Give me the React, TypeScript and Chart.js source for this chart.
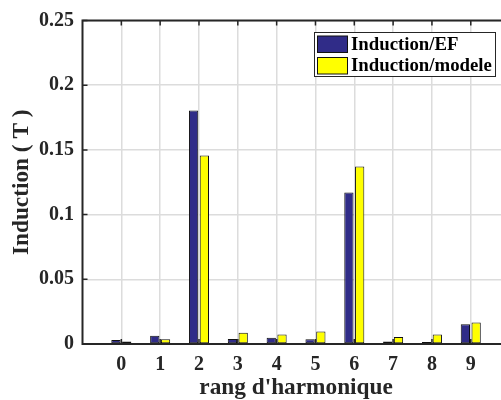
import React, { useEffect, useRef } from 'react';
import { Chart, registerables } from 'chart.js';

Chart.register(...registerables);

const harmonics = [0, 1, 2, 3, 4, 5, 6, 7, 8, 9];
const inductionEF = [0.003, 0.0064, 0.1804, 0.0038, 0.0049, 0.0036, 0.1171, 0.002, 0.0015, 0.0153];
const inductionModele = [0.002, 0.0036, 0.1456, 0.0087, 0.0074, 0.0097, 0.1372, 0.0054, 0.0074, 0.0166];
const yTicks = [0, 0.05, 0.1, 0.15, 0.2, 0.25];
const seriesNames = ['Induction/EF', 'Induction/modele'];
const seriesColors = ['#302c88', '#ffff00'];
const xTitle = "rang d'harmonique";
const yTitle = 'Induction ( T )';

const FONT = "'Liberation Serif', 'Times New Roman', serif";
const AXIS = '#262626';

const framePlugin = {
  id: 'frame',
  afterDatasetsDraw(chart: any) {
    const { ctx, chartArea, scales } = chart;
    const { left, right, top, bottom } = chartArea;
    const x = scales.x;
    const y = scales.y;
    ctx.save();
    ctx.strokeStyle = AXIS;
    ctx.lineWidth = 1.5;
    ctx.beginPath();
    harmonics.forEach((h) => {
      const px = x.getPixelForValue(h);
      ctx.moveTo(px, top);
      ctx.lineTo(px, top + 5);
      ctx.moveTo(px, bottom);
      ctx.lineTo(px, bottom - 5);
    });
    yTicks.forEach((v) => {
      const py = y.getPixelForValue(v);
      ctx.moveTo(left, py);
      ctx.lineTo(left + 5, py);
      ctx.moveTo(right, py);
      ctx.lineTo(right - 5, py);
    });
    ctx.stroke();
    ctx.lineWidth = 2;
    ctx.beginPath();
    ctx.rect(left, top, right - left, bottom - top);
    ctx.stroke();
    ctx.restore();
  },
  afterDraw(chart: any) {
    const { ctx } = chart;
    ctx.save();
    const bx = 314, by = 32, bw = 182, bh = 45;
    ctx.fillStyle = '#ffffff';
    ctx.fillRect(bx, by, bw, bh);
    ctx.strokeStyle = AXIS;
    ctx.lineWidth = 1;
    ctx.strokeRect(bx + 0.5, by + 0.5, bw - 1, bh - 1);
    ctx.font = `bold 18.8px ${FONT}`;
    ctx.textBaseline = 'middle';
    ctx.textAlign = 'left';
    seriesNames.forEach((name, i) => {
      const sy = by + 4 + i * 21.5;
      ctx.fillStyle = seriesColors[i];
      ctx.fillRect(bx + 3.5, sy, 30, 16.5);
      ctx.strokeStyle = '#111111';
      ctx.strokeRect(bx + 3.5, sy, 30, 16.5);
      ctx.fillStyle = '#000000';
      ctx.fillText(name, bx + 37, sy + 9);
    });
    ctx.restore();
  },
};

export default function App() {
  const ref = useRef<HTMLCanvasElement>(null);
  useEffect(() => {
    if (!ref.current) return;
    const tickFont = { family: FONT, size: 20, weight: 'bold' as const };
    const titleFont = { family: FONT, size: 23.3, weight: 'bold' as const, lineHeight: 1 };
    const chart = new Chart(ref.current, {
      type: 'bar',
      data: {
        datasets: [inductionEF, inductionModele].map((vals, i) => ({
          label: seriesNames[i],
          data: harmonics.map((h, j) => ({ x: h, y: vals[j] })),
          backgroundColor: seriesColors[i],
          borderColor: '#111111',
          borderWidth: 1,
          borderSkipped: false,
          categoryPercentage: 0.555,
          barPercentage: 0.86,
        })),
      },
      options: {
        animation: false,
        responsive: false,
        devicePixelRatio: 1,
        layout: { padding: { top: 17.3, right: 10.4, left: 0, bottom: 0 } },
        plugins: { legend: { display: false }, tooltip: { enabled: false } },
        scales: {
          x: {
            type: 'linear',
            min: -1,
            max: 10,
            offset: false,
            afterBuildTicks: (s: any) => {
              s.ticks = harmonics.map((v) => ({ value: v }));
            },
            afterFit: (s: any) => {
              s.height = 56;
            },
            grid: { color: '#dcdcdc', lineWidth: 1.5, drawTicks: false, offset: false },
            border: { display: false },
            ticks: { padding: 8.5, font: tickFont, color: AXIS, callback: (v: any) => String(v) },
            title: { display: true, text: xTitle, font: titleFont, color: AXIS, padding: 0 },
          },
          y: {
            type: 'linear',
            min: 0,
            max: 0.25,
            afterBuildTicks: (s: any) => {
              s.ticks = yTicks.map((v) => ({ value: v }));
            },
            afterFit: (s: any) => {
              s.width = 82.5;
            },
            grid: { color: '#dcdcdc', lineWidth: 1.5, drawTicks: false },
            border: { display: false },
            ticks: {
              padding: 8.5,
              font: tickFont,
              color: AXIS,
              callback: (v: any) => String(Number(Number(v).toFixed(2))),
            },
            title: { display: true, text: yTitle, font: titleFont, color: AXIS, padding: { top: 10.3, bottom: 0 } },
          },
        },
      },
      plugins: [framePlugin],
    });
    return () => chart.destroy();
  }, []);
  return (
    <div style={{ position: 'absolute', left: 0, top: 0, width: 501, height: 400, overflow: 'hidden', background: '#fff' }}>
      <canvas ref={ref} width={520} height={400} style={{ display: 'block' }} />
    </div>
  );
}
